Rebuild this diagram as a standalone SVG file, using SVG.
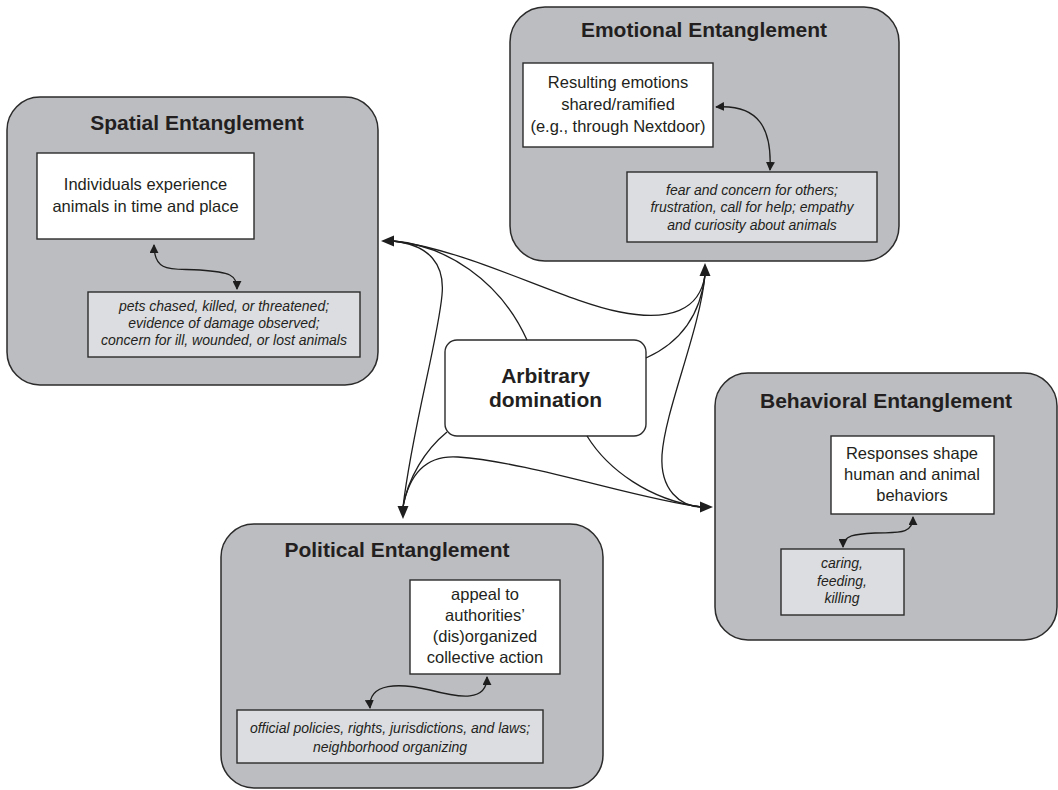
<svg xmlns="http://www.w3.org/2000/svg" width="1058" height="790" viewBox="0 0 1058 790">
<defs>
<style>
.outer{fill:#bcbdc0;stroke:#2b2b2b;stroke-width:1.5}
.white{fill:#ffffff;stroke:#2b2b2b;stroke-width:1.4}
.light{fill:#dcdde0;stroke:#2b2b2b;stroke-width:1.4}
.title{font-family:"Liberation Sans",Arial,sans-serif;font-weight:bold;font-size:21px;fill:#231f20;text-anchor:middle}
.body{font-family:"Liberation Sans",Arial,sans-serif;font-size:16.5px;fill:#231f20;text-anchor:middle}
.ital{font-family:"Liberation Sans",Arial,sans-serif;font-style:italic;font-size:14px;fill:#231f20;text-anchor:middle}
.conn{fill:none;stroke:#1e1e1e;stroke-width:1.3}
.head{fill:#1e1e1e}
</style>
<marker id="ah" viewBox="0 0 10 10" refX="9" refY="5" markerWidth="9" markerHeight="9" markerUnits="userSpaceOnUse" orient="auto-start-reverse">
<path d="M0,0 L10,5 L0,10 z" fill="#1e1e1e"/>
</marker>
</defs>
<rect width="1058" height="790" fill="#ffffff"/>

<g id="spatial">
<rect class="outer" x="7" y="97" width="371" height="288" rx="33"/>
<text class="title" x="197" y="130">Spatial Entanglement</text>
<rect class="white" x="37" y="153" width="217" height="86"/>
<text class="body" x="145.5" y="190">Individuals experience</text>
<text class="body" x="145.5" y="212">animals in time and place</text>
<rect class="light" x="88" y="292" width="272" height="65"/>
<text class="ital" x="224" y="311">pets chased, killed, or threatened;</text>
<text class="ital" x="224" y="328">evidence of damage observed;</text>
<text class="ital" x="224" y="345">concern for ill, wounded, or lost animals</text>
</g>

<g id="emotional">
<rect class="outer" x="510" y="7" width="389" height="254" rx="35"/>
<text class="title" x="704" y="37">Emotional Entanglement</text>
<rect class="white" x="523" y="63" width="190" height="84"/>
<text class="body" x="618" y="88">Resulting emotions</text>
<text class="body" x="618" y="110">shared/ramified</text>
<text class="body" x="618" y="132">(e.g., through Nextdoor)</text>
<rect class="light" x="627" y="172" width="250" height="70"/>
<text class="ital" x="752" y="195">fear and concern for others;</text>
<text class="ital" x="752" y="212">frustration, call for help; empathy</text>
<text class="ital" x="752" y="230">and curiosity about animals</text>
</g>

<g id="arbitrary">
<rect class="white" x="445" y="340" width="201" height="96" rx="12"/>
<text class="title" x="545.5" y="383">Arbitrary</text>
<text class="title" x="545.5" y="407">domination</text>
</g>

<g id="behavioral">
<rect class="outer" x="715" y="373" width="342" height="267" rx="33"/>
<text class="title" x="886" y="408">Behavioral Entanglement</text>
<rect class="white" x="831" y="436" width="163" height="78"/>
<text class="body" x="912" y="459">Responses shape</text>
<text class="body" x="912" y="480">human and animal</text>
<text class="body" x="912" y="501">behaviors</text>
<rect class="light" x="781" y="549" width="123" height="66"/>
<text class="ital" x="842" y="568">caring,</text>
<text class="ital" x="842" y="586">feeding,</text>
<text class="ital" x="842" y="603">killing</text>
</g>

<g id="political">
<rect class="outer" x="221" y="524" width="382" height="264" rx="33"/>
<text class="title" x="397" y="557">Political Entanglement</text>
<rect class="white" x="410" y="580" width="150" height="94"/>
<text class="body" x="485" y="600">appeal to</text>
<text class="body" x="485" y="621">authorities’</text>
<text class="body" x="485" y="642">(dis)organized</text>
<text class="body" x="485" y="663">collective action</text>
<rect class="light" x="237" y="710" width="306" height="53"/>
<text class="ital" x="390" y="733">official policies, rights, jurisdictions, and laws;</text>
<text class="ital" x="390" y="752">neighborhood organizing</text>
</g>

<g id="connectors">
<path class="conn" d="M393,241 C470,250 560,300 620,312 C670,322 700,310 705,275"/>
<path class="conn" d="M393,241 C445,245 500,280 527,340"/>
<path class="conn" d="M393,241 C430,245 445,265 442,295 C438,340 412,430 403,507"/>
<path class="conn" d="M646,358 C675,345 700,320 705,275"/>
<path class="conn" d="M705,275 C700,330 665,410 662,455 C660,490 680,506 701,507"/>
<path class="conn" d="M447,432 C425,450 408,478 403,507"/>
<path class="conn" d="M587,436 C608,470 650,500 701,507"/>
<path class="conn" d="M403,507 C410,470 430,455 458,457 C530,462 640,500 701,507"/>
<polygon class="head" points="381,241 394,235.5 394,246.5"/>
<polygon class="head" points="705,263 699.5,276 710.5,276"/>
<polygon class="head" points="403,519 397.5,506 408.5,506"/>
<polygon class="head" points="713,507 700,501.5 700,512.5"/>
<path class="conn" d="M154,245 C154,275 175,268 200,270 C230,272 237,275 237,289" marker-start="url(#ah)" marker-end="url(#ah)"/>
<path class="conn" d="M716,107 C760,104 772,130 770,170" marker-start="url(#ah)" marker-end="url(#ah)"/>
<path class="conn" d="M913,517 C913,536 895,532 875,533 C855,534 843,535 843,547" marker-start="url(#ah)" marker-end="url(#ah)"/>
<path class="conn" d="M370,708 C368,682 400,683 430,690 C460,698 487,702 487,677" marker-start="url(#ah)" marker-end="url(#ah)"/>
</g>
</svg>
